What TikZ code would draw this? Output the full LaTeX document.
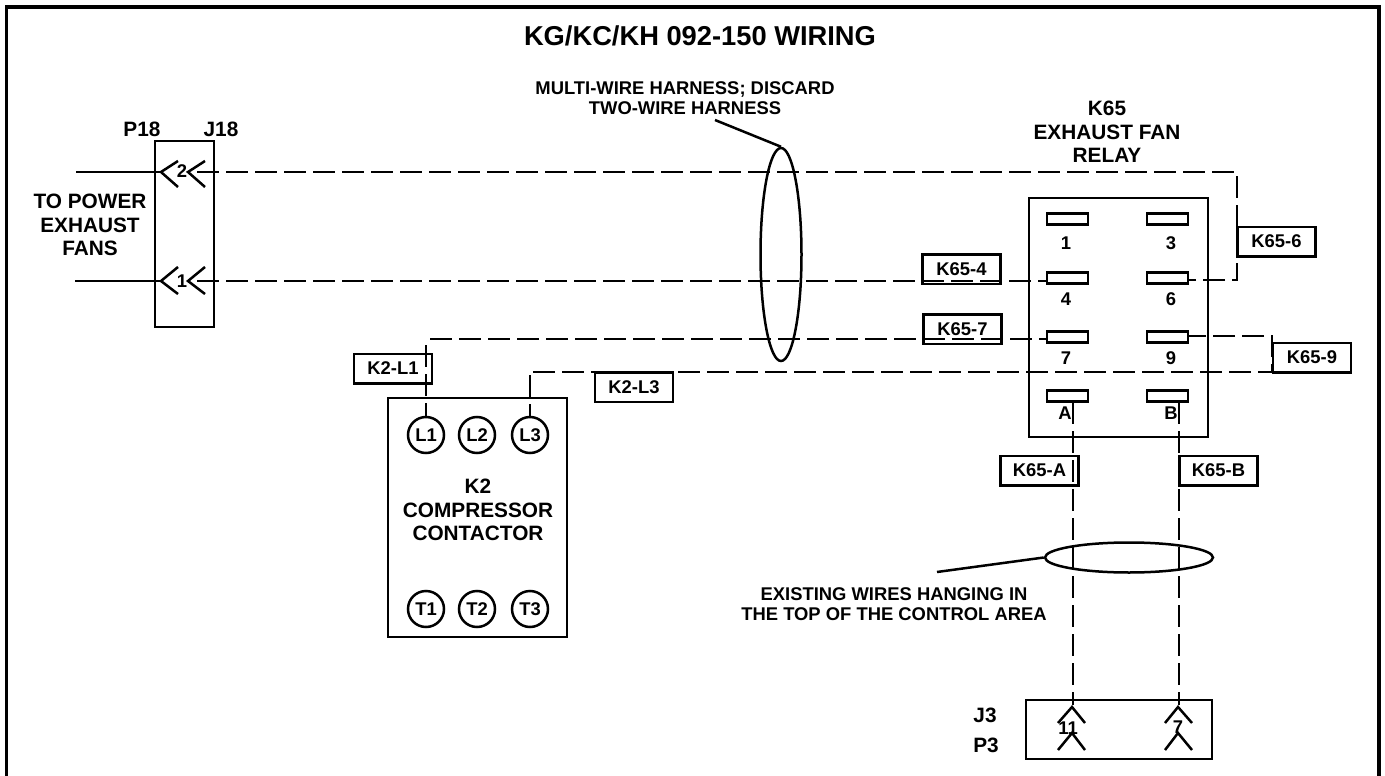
\documentclass[tikz,border=0pt]{standalone}
\usepackage{fontspec}
\setmainfont{Liberation Sans}
\usetikzlibrary{shapes.geometric}
\newcommand{\txtbig}{\bfseries\fontsize{20.8}{23.4}\selectfont}
\newcommand{\txtsmall}{\bfseries\fontsize{18.4}{20.5}\selectfont}
\tikzset{
	part/.style={draw, line width=2.5pt, inner sep=0pt},
	tag/.style={part, minimum width=78pt, minimum height=29.5pt, font=\txtsmall},
	slot/.style={part, minimum width=41pt, minimum height=11pt},
	pole/.style={part, circle, minimum size=36pt, font=\txtsmall},
	note/.style={inner sep=0pt, align=center, font=\txtbig},
	small/.style={inner sep=0pt, align=center, font=\txtsmall},
	wire/.style={line width=2.5pt, dash pattern=on 22pt off 7pt},
	lead/.style={line width=2.5pt}
}
\begin{document}
\begin{tikzpicture}[x=1pt, y=-1pt]
	\useasboundingbox (0, 0) rectangle (1385, 776);
	\draw[line width=3.8pt] (6.5, 782) -- (6.5, 7) -- (1379, 7) -- (1379, 782);
	\node[inner sep=0pt, font=\bfseries\fontsize{27.3}{30}\selectfont] (title) at (700, 36) {KG/KC/KH 092-150 WIRING};
	% connector P18/J18
	\node[part, minimum width=59pt, minimum height=186pt] (plug) at (184.5, 234) {};
	\node[note] (p18) at (142, 129) {P18};
	\node[note] (j18) at (221, 129) {J18};
	\node[note] (fans) at (90, 225) {TO POWER\\EXHAUST\\FANS};
	\node[small] (pin2) at (182, 171) {2};
	\node[small] (pin1) at (182, 281) {1};
	\draw[lead] (178, 161) -- (161, 172) -- (178, 187);
	\draw[lead] (205, 161) -- (188, 172) -- (205, 187);
	\draw[lead] (178, 267) -- (161, 281) -- (178, 294);
	\draw[lead] (205, 267) -- (188, 281) -- (205, 294);
	\coordinate (fanb) at (76, 172);
	\coordinate (fana) at (75, 281);
	\draw[lead] (fanb) -- (161, 172);
	\draw[lead] (fana) -- (161, 281);
	% relay
	\node[part, minimum width=179pt, minimum height=239pt] (relay) at (1118.5, 317.5) {};
	\node[note] (relayname) at (1107, 132) {K65\\EXHAUST FAN\\RELAY};
	\node[slot] (s1) at (1067.5, 219) {};
	\node[slot] (s3) at (1167.5, 219) {};
	\node[slot] (s4) at (1067.5, 278) {};
	\node[slot] (s6) at (1167.5, 278) {};
	\node[slot] (s7) at (1067.5, 337) {};
	\node[slot] (s9) at (1167.5, 337) {};
	\node[slot] (sa) at (1067.5, 396) {};
	\node[slot] (sb) at (1167.5, 396) {};
	\node[small] (n1) at (1066, 243) {1};
	\node[small] (n3) at (1171, 243) {3};
	\node[small] (n4) at (1066, 299) {4};
	\node[small] (n6) at (1171, 299) {6};
	\node[small] (n7) at (1066, 358) {7};
	\node[small] (n9) at (1171, 358) {9};
	\node[small] (na) at (1065, 413) {A};
	\node[small] (nb) at (1171, 413) {B};
	% contactor
	\node[part, minimum width=179pt, minimum height=239pt] (k2) at (477.5, 517.5) {};
	\node[note] (k2name) at (478, 510) {K2\\COMPRESSOR\\CONTACTOR};
	\node[pole] (l1) at (426, 435) {L1};
	\node[pole] (l2) at (477, 435) {L2};
	\node[pole] (l3) at (530, 435) {L3};
	\node[pole] (t1) at (426, 609) {T1};
	\node[pole] (t2) at (477, 609) {T2};
	\node[pole] (t3) at (530, 609) {T3};
	% connector J3/P3
	\node[part, minimum width=186pt, minimum height=59pt] (jack) at (1119, 729.5) {};
	\node[note] (j3) at (985, 715) {J3};
	\node[note] (p3) at (986, 745) {P3};
	\node[small] (pin11) at (1068, 728) {11};
	\node[small] (pin7) at (1178, 727) {7};
	\draw[lead] (1058, 723) -- (1072, 707) -- (1085, 723);
	\draw[lead] (1058, 750) -- (1072, 733) -- (1085, 750);
	\draw[lead] (1165, 723) -- (1178, 707) -- (1192, 723);
	\draw[lead] (1165, 750) -- (1178, 733) -- (1192, 750);
	% wires
	\coordinate (w2a) at (197, 172);
	\coordinate (w2b) at (1237, 172);
	\coordinate (w2c) at (1237, 280);
	\coordinate (w1a) at (197, 281);
	\coordinate (w7a) at (430, 339);
	\coordinate (w7b) at (426, 345);
	\coordinate (w3a) at (533, 372);
	\coordinate (w3b) at (530, 375);
	\coordinate (w9a) at (1272, 372);
	\coordinate (w9b) at (1272, 336);
	\coordinate (wa) at (1073, 402);
	\coordinate (wb) at (1179, 402);
	\coordinate (wja) at (1073, 705);
	\coordinate (wjb) at (1179, 705);
	\draw[wire] (w2a) -- (w2b) -- (w2c) -- (s6.east |- w2c);
	\draw[wire] (w1a) -- (s4.west |- w1a);
	\draw[wire] (w7a) -- (s7.west |- w7a);
	\draw[wire] (w7b) -- (l1.north);
	\draw[wire] (w3a) -- (w9a) -- (w9b) -- (s9.east |- w9b);
	\draw[wire] (w3b) -- (l3.north);
	\draw[wire] (wa) -- (wja);
	\draw[wire] (wb) -- (wjb);
	% wire labels
	\node[tag] (k656) at (1276.5, 241.5) {K65-6};
	\node[tag] (k654) at (961.5, 269) {K65-4};
	\node[tag] (k657) at (962.5, 329) {K65-7};
	\node[tag] (k659) at (1312, 357.5) {K65-9};
	\node[tag] (k65a) at (1039.5, 470.5) {K65-A};
	\node[tag] (k65b) at (1218.5, 470.5) {K65-B};
	\node[tag] (k2l1) at (393, 368.5) {K2-L1};
	\node[tag] (k2l3) at (634, 387) {K2-L3};
	% harnesses
	\node[part, ellipse, minimum width=41pt, minimum height=213pt] (harness) at (781, 254.5) {};
	\node[part, ellipse, minimum width=168pt, minimum height=30pt] (hanging) at (1129, 557.5) {};
	\node[small] (harnesstxt) at (685, 98) {MULTI-WIRE HARNESS; DISCARD\\TWO-WIRE HARNESS};
	\node[small] (hangingtxt) at (894, 604) {EXISTING WIRES HANGING IN\\THE TOP OF THE CONTROL AREA};
	\coordinate (leada) at (715, 120);
	\coordinate (leadb) at (937, 572);
	\draw[lead] (leada) -- (harness.north);
	\draw[lead] (leadb) -- (hanging.west);
\end{tikzpicture}
\end{document}
